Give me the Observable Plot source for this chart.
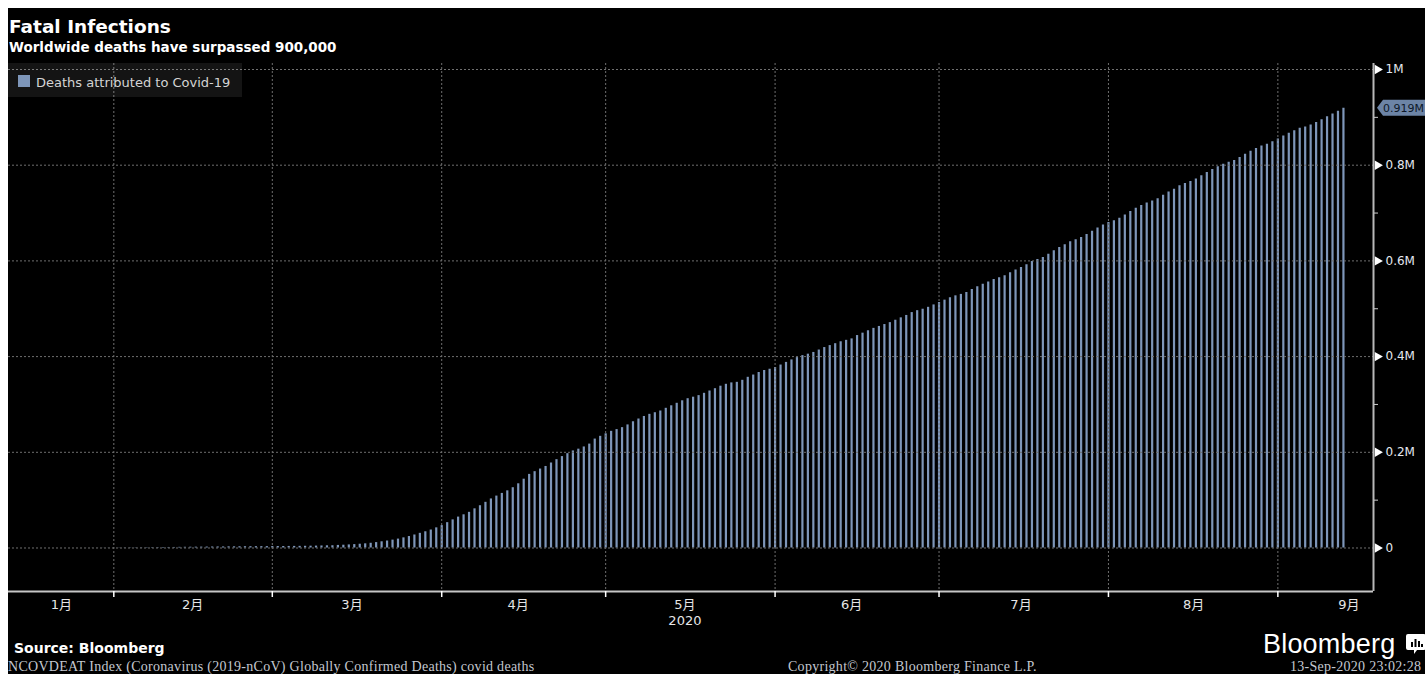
<!DOCTYPE html>
<html>
<head>
<meta charset="utf-8">
<script src="https://cdn.jsdelivr.net/npm/d3@7"></script>
<script src="https://cdn.jsdelivr.net/npm/@observablehq/plot@0.6"></script>
<style>
  html, body { margin: 0; padding: 0; width: 1425px; height: 674px; overflow: hidden; background: #ffffff; }
  #bg { position: absolute; left: 8px; top: 8px; width: 1417px; height: 666px; background: #000; }
  .abs { position: absolute; white-space: nowrap; line-height: 1; }
  #title { left: 9px; top: 16px; font: bold 18.5px "DejaVu Sans", sans-serif; color: #fff; }
  #subtitle { left: 9px; top: 39px; font: bold 13.5px "DejaVu Sans", sans-serif; color: #fff; }
  #chart { position: absolute; left: 8px; top: 56px; }
  #legend { left: 8px; top: 63px; width: 234px; height: 34px; background: rgba(255,255,255,0.08); }
  #swatch { left: 18px; top: 75px; width: 12px; height: 12px; background: #7e96b9; }
  #legtext { left: 36px; top: 75px; font: 13px "DejaVu Sans", sans-serif; color: #d4d4d4; }
  #source { left: 14px; top: 640px; font: bold 14px "DejaVu Sans", sans-serif; color: #fff; }
  #logo { left: 1263px; top: 629px; font: 500 27px "Liberation Sans", Arial, sans-serif; color: #fff; letter-spacing: 0.2px; }
  #icon { left: 1405px; top: 633px; }
  .foot { top: 659px; font: 14px "Liberation Serif", serif; color: #c4c8d0; letter-spacing: 0.28px; }
</style>
</head>
<body>
<div id="bg"></div>
<div id="title" class="abs">Fatal Infections</div>
<div id="subtitle" class="abs">Worldwide deaths have surpassed 900,000</div>
<div id="chart"></div>
<div id="legend" class="abs"></div>
<div id="swatch" class="abs"></div>
<div id="legtext" class="abs">Deaths attributed to Covid-19</div>
<div id="source" class="abs">Source: Bloomberg</div>
<div id="logo" class="abs">Bloomberg</div>
<svg id="icon" class="abs" width="22" height="22" viewBox="0 0 22 22">
  <path d="M3 1 H19 Q21 1 21 3 V15 Q21 17 19 17 H12 L9 21 L9 17 H3 Q1 17 1 15 V3 Q1 1 3 1 Z" fill="#fff"/>
  <rect x="6" y="9" width="2" height="5" fill="#000"/><rect x="9.5" y="6" width="2" height="8" fill="#000"/>
  <rect x="13" y="8" width="2" height="6" fill="#000"/><rect x="16" y="11" width="2" height="3" fill="#000"/>
</svg>
<div class="abs foot" style="left:8px">NCOVDEAT Index (Coronavirus (2019-nCoV) Globally Confirmed Deaths) covid deaths</div>
<div class="abs foot" style="left:788px">Copyright© 2020 Bloomberg Finance L.P.</div>
<div class="abs foot" style="left:1290px">13-Sep-2020 23:02:28</div>
<script>
// Cumulative worldwide Covid-19 deaths, daily from 2020-01-22 to 2020-09-13
const firstDay = "2020-01-22";
const jan = [17,18,26,42,56,82,131,133,171,213];
const feb = [259,362,426,492,564,634,719,806,906,1013,1113,1118,1371,1523,1666,1770,1868,2007,2122,2247,2251,2458,2469,2629,2708,2770,2814,2872,2941];
const mar = [2996,3085,3160,3254,3348,3460,3558,3802,3988,4262,4615,4720,5404,5819,6440,7126,7905,8733,9867,11299,12973,14623,16497,18615,21181,23970,27198,30652,33925,37582,42107];
const apr = [46809,52983,58787,64606,69374,74565,81865,88338,95455,102525,108502,114090,119481,125983,134176,143800,153822,159510,165044,170423,177641,184645,191032,197163,202846,206563,211167,217153,227638,233388];
const may = [238650,243808,247470,251537,257239,263831,269567,274898,279311,282709,286330,291942,297197,302418,307666,312009,315185,318481,323285,328115,332924,338160,342097,345059,346232,350453,356738,361471,366812,370952,373606];
const jun = [377220,382380,387906,393111,397945,402064,405058,408706,413733,418907,423000,427000,431000,434000,437000,444000,449000,454000,459000,463000,467000,471000,476000,481000,486000,492000,496000,499000,503000,508000];
const jul = [513000,518000,523000,527000,530000,534000,540000,546000,551000,556000,561000,565000,569000,575000,581000,586000,592000,599000,603000,607000,614000,621000,628000,634000,640000,644000,649000,655000,662000,669000,675000];
const aug = [680000,684000,689000,696000,703000,710000,716000,721000,725000,730000,737000,744000,750000,757000,762000,766000,771000,778000,785000,791000,797000,802000,806000,810000,816000,823000,829000,835000,840000,844000,849000];
const sep = [855000,861000,867000,872000,877000,880000,884000,889000,895000,901000,907000,913000,919000];

const seriesName = "Deaths attributed to Covid-19";
const xDomain = ["2020-01-12T17:30Z", "2020-09-18T12:00Z"];
const yDomain = [-90910, 1012540];
const yMajor = [0, 200000, 400000, 600000, 800000, 1000000];
const yMinor = [100000, 300000, 500000, 700000, 900000];
const monthStarts = ["2020-02-01","2020-03-01","2020-04-01","2020-05-01","2020-06-01","2020-07-01","2020-08-01","2020-09-01"];
const monthLabelDates = ["2020-01-22T10:00Z","2020-02-15T10:00Z","2020-03-15T14:00Z","2020-04-15T00:00Z","2020-05-15T12:00Z","2020-06-15T00:00Z","2020-07-16T00:00Z","2020-08-16T14:00Z","2020-09-14T00:00Z"];
const yearLabel = "2020";

const values = [...jan, ...feb, ...mar, ...apr, ...may, ...jun, ...jul, ...aug, ...sep];
const start = new Date(firstDay + "T00:00Z");
const rows = values.map((v, i) => ({date: d3.utcDay.offset(start, i), value: v}));
const last = rows[rows.length - 1];

const barColor = "#7e96b9";
const gridColor = "#6f6f6f";

function fmtY(d) { return d === 0 ? "0" : (d / 1e6) + "M"; }

const callout = (index, scales, vals, dims) => {
  const y = scales.y(last.value);
  const x0 = dims.width - dims.marginRight + 4;
  const g = d3.create("svg:g");
  g.append("path")
    .attr("d", `M${x0},${y} L${x0 + 6},${y - 8} L${dims.width + 10},${y - 8} L${dims.width + 10},${y + 8} L${x0 + 6},${y + 8} Z`)
    .attr("fill", "#6c84a6");
  g.append("text")
    .attr("x", x0 + 6).attr("y", y).attr("dy", "0.35em")
    .attr("text-anchor", "start")
    .attr("fill", "#0d1828")
    .attr("font-size", 11)
    .text((last.value / 1e6).toFixed(3) + "M");
  return g.node();
};

const chart = Plot.plot({
  width: 1417,
  height: 580,
  marginLeft: 0,
  marginRight: 52,
  marginTop: 7,
  marginBottom: 45,
  style: {background: "transparent", color: "#e8e8e8", fontFamily: "'DejaVu Sans', 'Noto Sans CJK TC', sans-serif", fontSize: "12px", overflow: "visible"},
  x: {type: "utc", domain: xDomain.map(d => new Date(d))},
  y: {domain: yDomain},
  marks: [
    Plot.ruleX(rows, {x: "date", y1: 0, y2: "value", stroke: barColor, strokeWidth: 2.2, title: d => `${seriesName}: ${d.value}`}),
    Plot.gridY(yMajor, {stroke: gridColor, strokeOpacity: 1, strokeDasharray: "2,2"}),
    Plot.gridX(monthStarts.map(d => new Date(d + "T00:00Z")), {stroke: gridColor, strokeOpacity: 1, strokeDasharray: "2,2"}),
    Plot.ruleY([yDomain[0]], {stroke: "#c6c6c6", strokeWidth: 2}),
    Plot.ruleX([new Date(xDomain[1])], {stroke: "#b8b8b8", strokeWidth: 2}),
    Plot.axisX(monthStarts.map(d => new Date(d + "T00:00Z")), {tickSize: 6, tickFormat: () => "", stroke: "#ffffff", strokeWidth: 1.5, label: null}),
    Plot.axisX(monthLabelDates.map(d => new Date(d)), {
      tickSize: 0, tickPadding: 5, fontSize: 13, lineHeight: 1.3, fill: "#e6e6e6", label: null,
      tickFormat: d => (d.getUTCMonth() + 1) + "月" + (d.getUTCMonth() === 4 ? "\n" + yearLabel : "")
    }),
    Plot.axisY(yMinor, {anchor: "right", tickSize: 4, tickFormat: () => "", stroke: "#cccccc", label: null}),
    Plot.axisY(yMajor, {anchor: "right", tickSize: 0, tickPadding: 12, tickFormat: fmtY, fontSize: 12, fill: "#e4e8f0", label: null}),
    Plot.dot(yMajor, {y: d => d, frameAnchor: "right", symbol: "triangle", rotate: 90, r: 3.5, fill: "#ffffff", dx: 4}),
    callout
  ]
});
document.getElementById("chart").appendChild(chart);
</script>
</body>
</html>
